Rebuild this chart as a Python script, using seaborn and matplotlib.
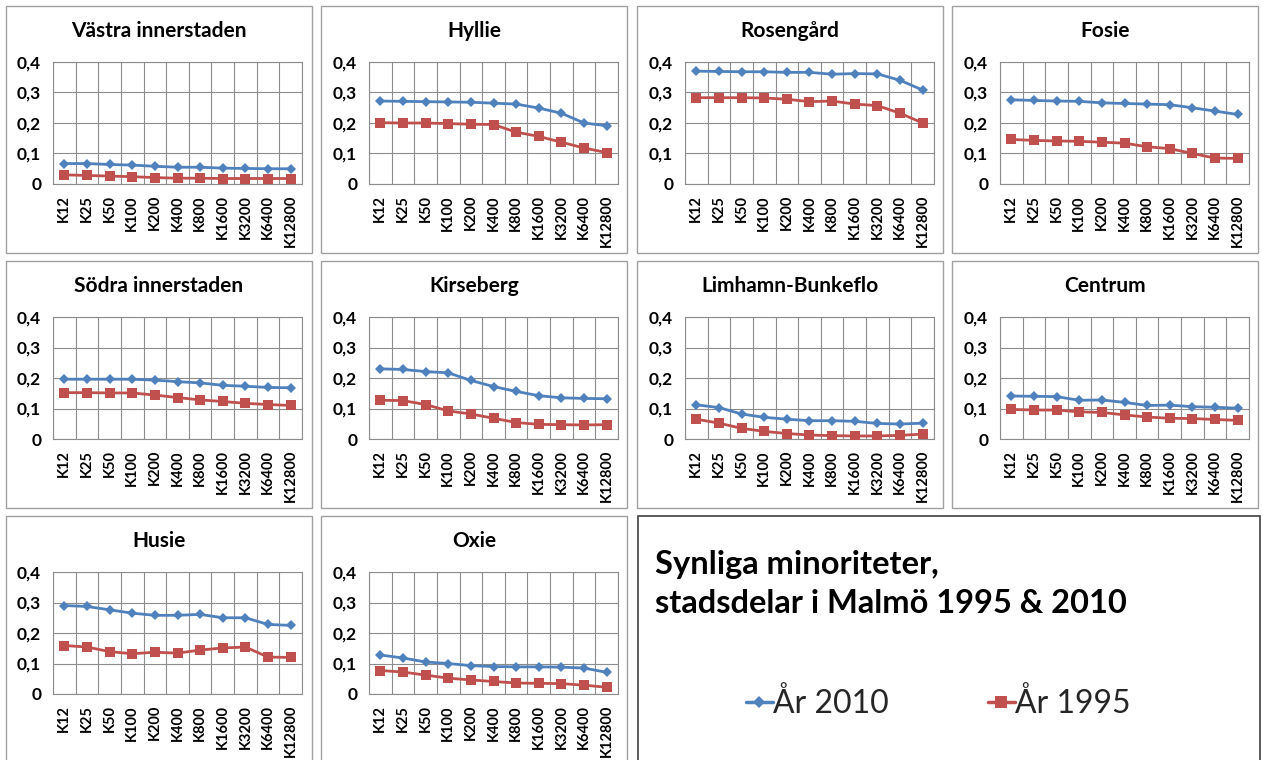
import numpy as np
import pandas as pd
import matplotlib
matplotlib.use("Agg")
import matplotlib.pyplot as plt
import seaborn as sns
from matplotlib.patches import Rectangle
from matplotlib.lines import Line2D
from matplotlib.ticker import FixedLocator

sns.set_theme(style="white")
plt.rcParams['font.family'] = ['Lato', 'DejaVu Sans']

categories = ["K12", "K25", "K50", "K100", "K200", "K400", "K800", "K1600", "K3200", "K6400", "K12800"]

districts = ["Västra innerstaden", "Hyllie", "Rosengård", "Fosie",
             "Södra innerstaden", "Kirseberg", "Limhamn-Bunkeflo", "Centrum",
             "Husie", "Oxie"]

vastra_2010 = [0.067, 0.067, 0.064, 0.062, 0.058, 0.055, 0.055, 0.052, 0.051, 0.050, 0.050]
vastra_1995 = [0.030, 0.028, 0.026, 0.024, 0.021, 0.019, 0.019, 0.018, 0.018, 0.018, 0.018]
hyllie_2010 = [0.272, 0.271, 0.270, 0.269, 0.268, 0.265, 0.262, 0.249, 0.232, 0.200, 0.191]
hyllie_1995 = [0.201, 0.200, 0.200, 0.198, 0.196, 0.195, 0.170, 0.156, 0.137, 0.118, 0.103]
rosengard_2010 = [0.370, 0.369, 0.368, 0.368, 0.366, 0.366, 0.360, 0.362, 0.361, 0.340, 0.308]
rosengard_1995 = [0.283, 0.283, 0.283, 0.282, 0.278, 0.270, 0.272, 0.262, 0.257, 0.232, 0.200]
fosie_2010 = [0.276, 0.274, 0.272, 0.271, 0.266, 0.264, 0.262, 0.260, 0.250, 0.239, 0.228]
fosie_1995 = [0.146, 0.143, 0.141, 0.140, 0.137, 0.134, 0.122, 0.116, 0.100, 0.085, 0.084]
sodra_2010 = [0.196, 0.196, 0.196, 0.196, 0.193, 0.188, 0.184, 0.176, 0.173, 0.169, 0.168]
sodra_1995 = [0.152, 0.152, 0.151, 0.151, 0.144, 0.136, 0.128, 0.123, 0.117, 0.113, 0.110]
kirseberg_2010 = [0.230, 0.228, 0.221, 0.217, 0.192, 0.172, 0.156, 0.142, 0.135, 0.133, 0.132]
kirseberg_1995 = [0.127, 0.126, 0.113, 0.092, 0.082, 0.068, 0.054, 0.048, 0.047, 0.046, 0.047]
limhamn_2010 = [0.112, 0.103, 0.082, 0.071, 0.065, 0.060, 0.060, 0.058, 0.051, 0.049, 0.052]
limhamn_1995 = [0.065, 0.052, 0.035, 0.025, 0.018, 0.013, 0.011, 0.010, 0.010, 0.012, 0.016]
centrum_2010 = [0.141, 0.140, 0.139, 0.127, 0.128, 0.120, 0.110, 0.111, 0.106, 0.104, 0.101]
centrum_1995 = [0.097, 0.095, 0.095, 0.089, 0.087, 0.079, 0.072, 0.068, 0.067, 0.064, 0.061]
husie_2010 = [0.290, 0.287, 0.276, 0.265, 0.258, 0.258, 0.261, 0.250, 0.250, 0.228, 0.225]
husie_1995 = [0.159, 0.154, 0.139, 0.132, 0.137, 0.134, 0.144, 0.151, 0.154, 0.121, 0.120]
oxie_2010 = [0.128, 0.118, 0.105, 0.100, 0.093, 0.090, 0.089, 0.089, 0.088, 0.085, 0.071]
oxie_1995 = [0.077, 0.072, 0.062, 0.052, 0.046, 0.041, 0.036, 0.035, 0.034, 0.029, 0.022]

series_2010 = [vastra_2010, hyllie_2010, rosengard_2010, fosie_2010, sodra_2010,
               kirseberg_2010, limhamn_2010, centrum_2010, husie_2010, oxie_2010]
series_1995 = [vastra_1995, hyllie_1995, rosengard_1995, fosie_1995, sodra_1995,
               kirseberg_1995, limhamn_1995, centrum_1995, husie_1995, oxie_1995]

y_ticks = [0, 0.1, 0.2, 0.3, 0.4]
y_labels = ["0", "0,1", "0,2", "0,3", "0,4"]
legend_labels = ["År 2010", "År 1995"]
title_text = "Synliga minoriteter,\nstadsdelar i Malmö 1995 & 2010"

BLUE = "#4F81BD"
RED = "#C0504D"

W, H = 1263, 760
fig = plt.figure(figsize=(W / 100, H / 100), dpi=100)
fig.patch.set_facecolor("white")

def fx(px):
    return px / W

def fy(py):
    return 1 - py / H

col_off = [0, 316, 632, 947]
row_off = [0, 255, 510]
box_x = [6, 321, 637, 952]
box_y = [6, 261, 516]
BOX_W = 306

for i, name in enumerate(districts):
    r, c = divmod(i, 4)
    bx, by = box_x[c], box_y[r]
    bh = 247 if r < 2 else (H - by + 5)
    fig.patches.append(Rectangle((fx(bx), fy(by + bh)), BOX_W / W, bh / H,
                                 transform=fig.transFigure, fill=False,
                                 edgecolor="#a0a0a0", lw=1.0, zorder=0))
    left = col_off[c] + 53
    top = row_off[r] + 62
    ax = fig.add_axes([fx(left), fy(top + 122), 249 / W, 122 / H])
    df = pd.DataFrame({
        "v": series_2010[i] + series_1995[i],
        "year": [legend_labels[0]] * len(categories) + [legend_labels[1]] * len(categories),
    })
    df["x"] = list(range(len(categories))) * 2
    sns.lineplot(data=df, x="x", y="v", hue="year", style="year",
                 palette={legend_labels[0]: BLUE, legend_labels[1]: RED},
                 markers={legend_labels[0]: "D", legend_labels[1]: "s"},
                 dashes=False, markeredgewidth=0,
                 linewidth=2.0, ax=ax, legend=False, zorder=3)
    for line, ms in zip(ax.lines, [5, 7.5]):
        line.set_markersize(ms)
    ax.set_xlim(-0.5, len(categories) - 0.5)
    ax.set_ylim(0, 0.4)
    ax.set_xticks(range(len(categories)))
    ax.set_xticklabels(categories, rotation=90, fontsize=10.5, fontweight="bold")
    ax.xaxis.set_minor_locator(FixedLocator(np.arange(-0.5, len(categories), 1.0)))
    ax.set_yticks(y_ticks)
    ax.set_yticklabels(y_labels, fontsize=12.5, fontweight="bold")
    ax.tick_params(axis="both", which="both", length=0, colors="black")
    ax.tick_params(axis="y", pad=8.5)
    ax.tick_params(axis="x", pad=8)
    ax.grid(False)
    ax.grid(True, which="minor", axis="x", color="#8c8c8c", lw=0.8)
    ax.grid(True, which="major", axis="y", color="#8c8c8c", lw=0.8)
    ax.set_axisbelow(True)
    for s in ax.spines.values():
        s.set_color("#8c8c8c")
        s.set_linewidth(0.8)
    ax.set_xlabel("")
    ax.set_ylabel("")
    fig.text(fx(bx + BOX_W / 2), fy(row_off[r] + 37), name, fontsize=15,
             fontweight="bold", ha="center", va="baseline", color="black")

fig.patches.append(Rectangle((fx(638), fy(H + 5)), (1260 - 638) / W, (H + 5 - 516) / H,
                             transform=fig.transFigure, fill=False,
                             edgecolor="#404040", lw=1.2, zorder=0))
fig.text(fx(655), fy(584), title_text, fontsize=23.5, fontweight="bold",
         ha="left", va="center", linespacing=1.38, color="black")

handles = [Line2D([0], [0], color=BLUE, lw=2.5, marker="D", markersize=6, markeredgewidth=0),
           Line2D([0], [0], color=RED, lw=2.5, marker="s", markersize=8, markeredgewidth=0)]
fig.legend(handles, legend_labels, loc="center", bbox_to_anchor=(fx(938), fy(704)),
           ncol=2, frameon=False, fontsize=23, handlelength=0.85, handletextpad=0.0,
           columnspacing=3.1)

fig.savefig("out.png", dpi=100, facecolor="white")
